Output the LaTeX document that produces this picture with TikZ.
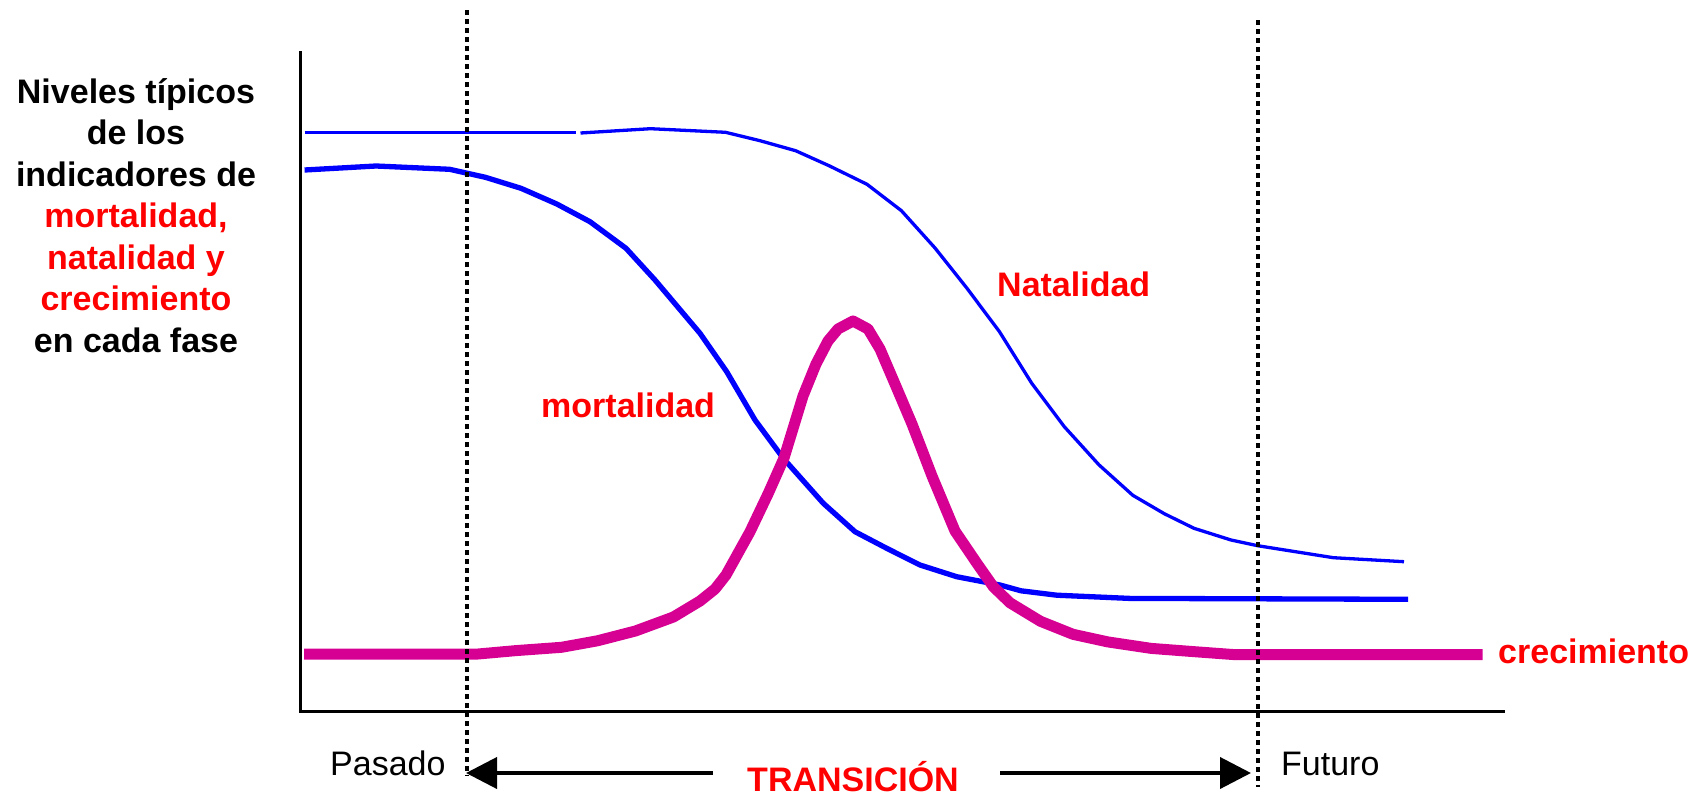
\documentclass[tikz,border=0pt]{standalone}
\usepackage{fontspec}
\setmainfont{Liberation Sans}
\usetikzlibrary{arrows.meta}
\definecolor{magentaC}{RGB}{214,0,147}
\definecolor{blueC}{RGB}{0,0,255}
\definecolor{redC}{RGB}{255,0,0}
\begin{document}
\begin{tikzpicture}[x=1pt,y=-1pt,
  axisline/.style={line width=3pt, black},
  guide/.style={line width=4pt, black, dash pattern=on 4.5pt off 4.5pt},
  natline/.style={line width=3.3pt, blueC, line join=round},
  mortline/.style={line width=5.3pt, blueC, line join=round},
  growline/.style={line width=11pt, magentaC, line join=round},
  lbl/.style={font=\fontsize{34}{41.5}\selectfont\bfseries, text=redC, inner sep=0pt},
  plaintext/.style={font=\fontsize{34}{41.5}\selectfont, inner sep=0pt},
  transarrow/.style={line width=4pt, -{Triangle[length=31pt,width=31pt]}}]
\useasboundingbox (0,0) rectangle (1703,795);
% axes
\coordinate (Ytop) at (300,51);
\coordinate (O) at (300,711);
\coordinate (Xend) at (1505,711);
\draw[axisline] (Ytop) -- (O) -- (Xend);
% natalidad
\draw[natline] (304.6,132.7) -- (576,132.7);
\draw[natline] (580.5,133) -- (650.5,128.7) -- (725.5,132.3) -- (760,140.7) -- (795.6,150.7) -- (829,165.7) -- (867,184.3) -- (901.4,210.7) -- (935,248) -- (966.6,287.8) -- (999.2,331.3) -- (1031.8,383.4) -- (1064.4,426.8) -- (1099,464.9) -- (1132.8,495.3) -- (1164.3,513.7) -- (1194,528.3) -- (1231,540) -- (1257.6,545.7) -- (1333.4,557.7) -- (1404,561.7);
% mortalidad
\draw[mortline] (304.6,170) -- (376,166) -- (449.6,169.3) -- (485.4,177.3) -- (521,188.3) -- (556.8,204) -- (590,221.7) -- (626,248.3) -- (655,280) -- (700,333.3) -- (726.7,371.7) -- (755,420) -- (783.3,458.3) -- (823.3,503.3) -- (855,531.7) -- (886.7,548.3) -- (920,565) -- (956.7,576.7) -- (1000,585) -- (1021,590.8) -- (1056.8,595.2) -- (1129.6,598.4) -- (1408,599.3);
% crecimiento
\draw[growline] (304,654) -- (478,654) -- (516,650.6) -- (561.5,647.3) -- (597.4,640.8) -- (635.4,631) -- (673.4,617) -- (700,601) -- (715,589) -- (726,575) -- (750,531.7) -- (768.3,493.3) -- (784,458) -- (803,396) -- (816,364) -- (828,341) -- (838,329) -- (853,321) -- (868,329) -- (880,349) -- (895,384) -- (912,424) -- (932,476) -- (955,531) -- (976.7,563) -- (993.3,586.7) -- (1010,602.8) -- (1040.5,621.3) -- (1073,634.3) -- (1107.8,641.9) -- (1151.3,648.4) -- (1194.7,651.7) -- (1232.7,654.5) -- (1482.5,654.5);
% guide lines
\coordinate (g1t) at (467,10);
\coordinate (g1b) at (467,776);
\coordinate (g2t) at (1258,20);
\coordinate (g2b) at (1258,787);
\draw[guide] (g1t) -- (g1b);
\draw[guide] (g2t) -- (g2b);
% labels
\node[plaintext, font=\fontsize{34}{41.5}\selectfont\bfseries, align=center, anchor=north] (ylab) at (136,78)
  {Niveles típicos\\de los\\indicadores de\\\textcolor{redC}{mortalidad,}\\\textcolor{redC}{natalidad y}\\\textcolor{redC}{crecimiento}\\en cada fase};
\node[lbl, anchor=base west] (nat) at (997,296.5) {Natalidad};
\node[lbl, anchor=base west] (mort) at (541,417) {mortalidad};
\node[lbl, anchor=base west] (crec) at (1498,663) {crecimiento};
\node[lbl, anchor=base] (trans) at (853,791) {TRANSICIÓN};
\node[plaintext, anchor=base west] (pas) at (330,775) {Pasado};
\node[plaintext, anchor=base west] (fut) at (1281,775) {Futuro};
% arrows
\coordinate (la) at (713,773);
\coordinate (lt) at (466,773);
\coordinate (ra) at (1000,773);
\coordinate (rt) at (1251,773);
\draw[transarrow] (la) -- (lt);
\draw[transarrow] (ra) -- (rt);
\end{tikzpicture}
\end{document}
